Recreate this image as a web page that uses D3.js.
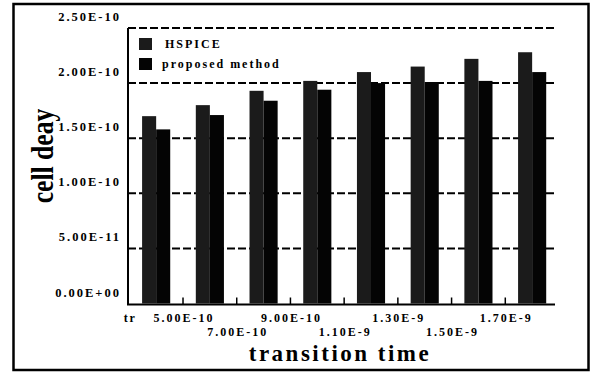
<!DOCTYPE html>
<html>
<head>
<meta charset="utf-8">
<script src="https://cdn.jsdelivr.net/npm/d3@7"></script>
<style>
  html, body { margin: 0; padding: 0; background: #fff; }
  svg { display: block; }
  text { font-family: "Liberation Serif", "Times New Roman", serif; font-weight: bold; fill: #000; }
</style>
</head>
<body>
<svg id="chart" width="593" height="373"></svg>
<script>
// ---- data ----
const categories = ["tr", "5.00E-10", "7.00E-10", "9.00E-10", "1.10E-9", "1.30E-9", "1.50E-9", "1.70E-9"];
const series = ["HSPICE", "proposed method"];
const hspice   = [1.70e-10, 1.80e-10, 1.93e-10, 2.02e-10, 2.10e-10, 2.15e-10, 2.22e-10, 2.28e-10];
const proposed = [1.58e-10, 1.71e-10, 1.84e-10, 1.94e-10, 2.00e-10, 2.01e-10, 2.02e-10, 2.10e-10];
const yTicks = [0, 5e-11, 1e-10, 1.5e-10, 2e-10, 2.5e-10];
const yTickLabels = ["0.00E+00", "5.00E-11", "1.00E-10", "1.50E-10", "2.00E-10", "2.50E-10"];
const colors = ["#1b1b1b", "#040404"];

(function () {
const svg = d3.select("#chart");

// outer frame
svg.append("rect").attr("x", 13.5).attr("y", 4).attr("width", 575).attr("height", 366)
  .attr("fill", "none").attr("stroke", "#000").attr("stroke-width", 2.5);

const pLeft = 128, pRight = 555, pTop = 28, pBottom = 303.5;
const x = d3.scaleBand().domain(categories).range([129.3, 559]).paddingInner(0).paddingOuter(0);
const x1 = d3.scaleBand().domain(series).range([0, x.bandwidth()]).paddingInner(0).paddingOuter(0.91);
const y = d3.scaleLinear().domain([0, 2.5e-10]).range([pBottom, pTop]);

// gridlines (dashed)
svg.append("g").selectAll("line").data(yTicks.filter(d => d > 0)).join("line")
  .attr("x1", pLeft).attr("x2", pRight)
  .attr("y1", d => y(d)).attr("y2", d => y(d))
  .attr("stroke", "#000").attr("stroke-width", 2).attr("stroke-dasharray", "8,3");

// bars
const rows = categories.map((c, i) => ({ c, vals: [hspice[i], proposed[i]] }));
const g = svg.append("g").selectAll("g").data(rows).join("g")
  .attr("transform", d => `translate(${x(d.c)},0)`);
g.selectAll("rect").data(d => d.vals.map((v, k) => ({ s: series[k], v, k }))).join("rect")
  .attr("x", d => x1(d.s))
  .attr("width", x1.bandwidth())
  .attr("y", d => y(d.v))
  .attr("height", d => y(0) - y(d.v))
  .attr("fill", d => colors[d.k]);

// axes lines
svg.append("line").attr("x1", pLeft).attr("x2", pLeft).attr("y1", pTop).attr("y2", pBottom + 1)
  .attr("stroke", "#000").attr("stroke-width", 2);
svg.append("line").attr("x1", pLeft - 1).attr("x2", pRight).attr("y1", pBottom + 1).attr("y2", pBottom + 1)
  .attr("stroke", "#000").attr("stroke-width", 2);

// x ticks (inward, at band boundaries)
svg.append("g").selectAll("line").data(categories.slice(1)).join("line")
  .attr("x1", d => x(d)).attr("x2", d => x(d))
  .attr("y1", pBottom - 6).attr("y2", pBottom + 1)
  .attr("stroke", "#000").attr("stroke-width", 1.5);

// y tick labels
svg.append("g").selectAll("text").data(yTicks).join("text")
  .attr("x", 121)
  .attr("y", d => y(d) - 11)
  .attr("text-anchor", "end")
  .attr("dominant-baseline", "central")
  .attr("font-size", 12.5)
  .attr("letter-spacing", 2)
  .text((d, i) => yTickLabels[i]);

// x tick labels (alternating rows)
svg.append("g").selectAll("text").data(categories).join("text")
  .attr("x", d => x(d) + 1)
  .attr("y", (d, i) => (i > 0 && i % 2 === 0) ? 332 : 318)
  .attr("text-anchor", "middle")
  .attr("dominant-baseline", "central")
  .attr("font-size", 12)
  .attr("letter-spacing", 2)
  .text(d => d);

// legend
const leg = svg.append("g").selectAll("g").data(series).join("g")
  .attr("transform", (d, i) => `translate(139,${38 + i * 20})`);
leg.append("rect").attr("width", 13).attr("height", 12).attr("fill", (d, i) => colors[i]);
leg.append("text").attr("x", (d, i) => i === 0 ? 26 : 23).attr("y", 6)
  .attr("dominant-baseline", "central")
  .attr("font-size", 12).attr("letter-spacing", 2)
  .text(d => d);

// axis titles
svg.append("text")
  .attr("transform", "translate(53,156) rotate(-90) scale(0.8,1)")
  .attr("text-anchor", "middle")
  .attr("font-size", 32)
  .text("cell deay");

svg.append("text")
  .attr("x", 340).attr("y", 361)
  .attr("text-anchor", "middle")
  .attr("font-size", 23)
  .attr("letter-spacing", 2.5)
  .text("transition time");
})();
</script>
</body>
</html>
